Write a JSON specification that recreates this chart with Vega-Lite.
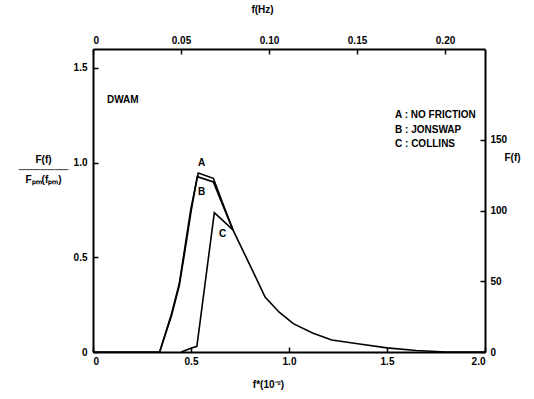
{
  "$schema": "https://vega.github.io/schema/vega-lite/v6.json",
  "autosize": "none",
  "width": 392,
  "height": 303,
  "padding": {"left": 93, "top": 49, "right": 49, "bottom": 47},
  "background": "white",
  "config": {
    "view": {"stroke": null},
    "font": "Liberation Sans",
    "axis": {
      "domainColor": "black", "domainWidth": 2, "tickColor": "black", "tickWidth": 1.5,
      "tickSize": -5, "labelColor": "black", "labelFont": "Liberation Sans", "labelFontWeight": "bold",
      "labelFontSize": 10, "titleFont": "Liberation Sans", "titleFontWeight": "bold", "titleFontSize": 10,
      "titleColor": "black", "grid": false
    }
  },
  "layer": [
    {
      "layer": [
        {
          "data": {"values": [
            {"curve": "A", "fstar": 0.0, "ratio": 0.0},
            {"curve": "A", "fstar": 0.34, "ratio": 0.0},
            {"curve": "A", "fstar": 0.40, "ratio": 0.2},
            {"curve": "A", "fstar": 0.44, "ratio": 0.36},
            {"curve": "A", "fstar": 0.47, "ratio": 0.56},
            {"curve": "A", "fstar": 0.50, "ratio": 0.76},
            {"curve": "A", "fstar": 0.537, "ratio": 0.945},
            {"curve": "A", "fstar": 0.614, "ratio": 0.917},
            {"curve": "A", "fstar": 0.66, "ratio": 0.79},
            {"curve": "A", "fstar": 0.714, "ratio": 0.645},
            {"curve": "A", "fstar": 0.80, "ratio": 0.46},
            {"curve": "A", "fstar": 0.878, "ratio": 0.29},
            {"curve": "A", "fstar": 0.95, "ratio": 0.21},
            {"curve": "A", "fstar": 1.022, "ratio": 0.15},
            {"curve": "A", "fstar": 1.12, "ratio": 0.1},
            {"curve": "A", "fstar": 1.218, "ratio": 0.063},
            {"curve": "A", "fstar": 1.36, "ratio": 0.042},
            {"curve": "A", "fstar": 1.5, "ratio": 0.022},
            {"curve": "A", "fstar": 1.65, "ratio": 0.008},
            {"curve": "A", "fstar": 1.8, "ratio": 0.0},
            {"curve": "A", "fstar": 2.0, "ratio": 0.0},
            {"curve": "B", "fstar": 0.34, "ratio": 0.0},
            {"curve": "B", "fstar": 0.40, "ratio": 0.19},
            {"curve": "B", "fstar": 0.44, "ratio": 0.35},
            {"curve": "B", "fstar": 0.47, "ratio": 0.54},
            {"curve": "B", "fstar": 0.50, "ratio": 0.74},
            {"curve": "B", "fstar": 0.532, "ratio": 0.926},
            {"curve": "B", "fstar": 0.614, "ratio": 0.898},
            {"curve": "B", "fstar": 0.66, "ratio": 0.78},
            {"curve": "B", "fstar": 0.714, "ratio": 0.645},
            {"curve": "C", "fstar": 0.45, "ratio": 0.0},
            {"curve": "C", "fstar": 0.50, "ratio": 0.02},
            {"curve": "C", "fstar": 0.53, "ratio": 0.03},
            {"curve": "C", "fstar": 0.619, "ratio": 0.736},
            {"curve": "C", "fstar": 0.714, "ratio": 0.645}
          ]},
          "mark": {"type": "line", "color": "black", "strokeWidth": 1.6},
          "encoding": {
            "x": {"field": "fstar", "type": "quantitative", "scale": {"domain": [0, 2]},
              "axis": {"orient": "bottom", "values": [0, 0.5, 1, 1.5, 2], "labelExpr": "datum.value == 0 ? '0' : format(datum.value, '.1f')",
                "title": "f*(10⁻²)", "titleX": 175, "titleY": 27, "titleAnchor": null, "labelPadding": 9}},
            "y": {"field": "ratio", "type": "quantitative", "scale": {"domain": [0, 1.5]},
              "axis": {"orient": "left", "values": [0, 0.5, 1, 1.5], "labelExpr": "datum.value == 0 ? '0' : format(datum.value, '.1f')",
                "title": ["F(f)", "───────", "Fₚₘ(fₚₘ)"], "titleAngle": 0, "titleX": -50, "titleY": 110,
                "titleAlign": "center", "titleBaseline": "middle", "titleLineHeight": 10, "labelPadding": 11}},
            "detail": {"field": "curve"}
          }
        },
        {
          "data": {"values": [
            {"label": "DWAM", "fstar": 0.071, "ratio": 1.332},
            {"label": "A : NO FRICTION", "fstar": 1.541, "ratio": 1.252},
            {"label": "B : JONSWAP", "fstar": 1.541, "ratio": 1.173},
            {"label": "C : COLLINS", "fstar": 1.541, "ratio": 1.099},
            {"label": "A", "fstar": 0.536, "ratio": 1.0},
            {"label": "B", "fstar": 0.536, "ratio": 0.847},
            {"label": "C", "fstar": 0.643, "ratio": 0.624}
          ]},
          "mark": {"type": "text", "align": "left", "baseline": "middle", "font": "Liberation Sans", "fontWeight": "bold", "fontSize": 10, "color": "black"},
          "encoding": {
            "x": {"field": "fstar", "type": "quantitative"},
            "y": {"field": "ratio", "type": "quantitative"},
            "text": {"field": "label"}
          }
        }
      ]
    },
    {
      "data": {"values": [{"fhz": 0, "Ff": 0}]},
      "mark": {"type": "point", "opacity": 0},
      "encoding": {
        "x": {"field": "fhz", "type": "quantitative", "scale": {"domain": [0, 0.2227], "nice": false},
          "axis": {"orient": "top", "values": [0, 0.05, 0.1, 0.15, 0.2], "labelExpr": "datum.value == 0 ? '0' : format(datum.value, '.2f')",
            "title": "f(Hz)", "titleX": 169, "titleY": -35, "titleAnchor": null, "labelPadding": 9}},
        "y": {"field": "Ff", "type": "quantitative", "scale": {"domain": [0, 214.3], "nice": false},
          "axis": {"orient": "right", "values": [0, 50, 100, 150], "title": "F(f)", "titleAngle": 0,
            "titleX": 27, "titleY": 108, "titleAlign": "center", "titleBaseline": "middle", "labelPadding": 10}}
      }
    }
  ],
  "resolve": {"scale": {"x": "independent", "y": "independent"}, "axis": {"x": "independent", "y": "independent"}}
}
